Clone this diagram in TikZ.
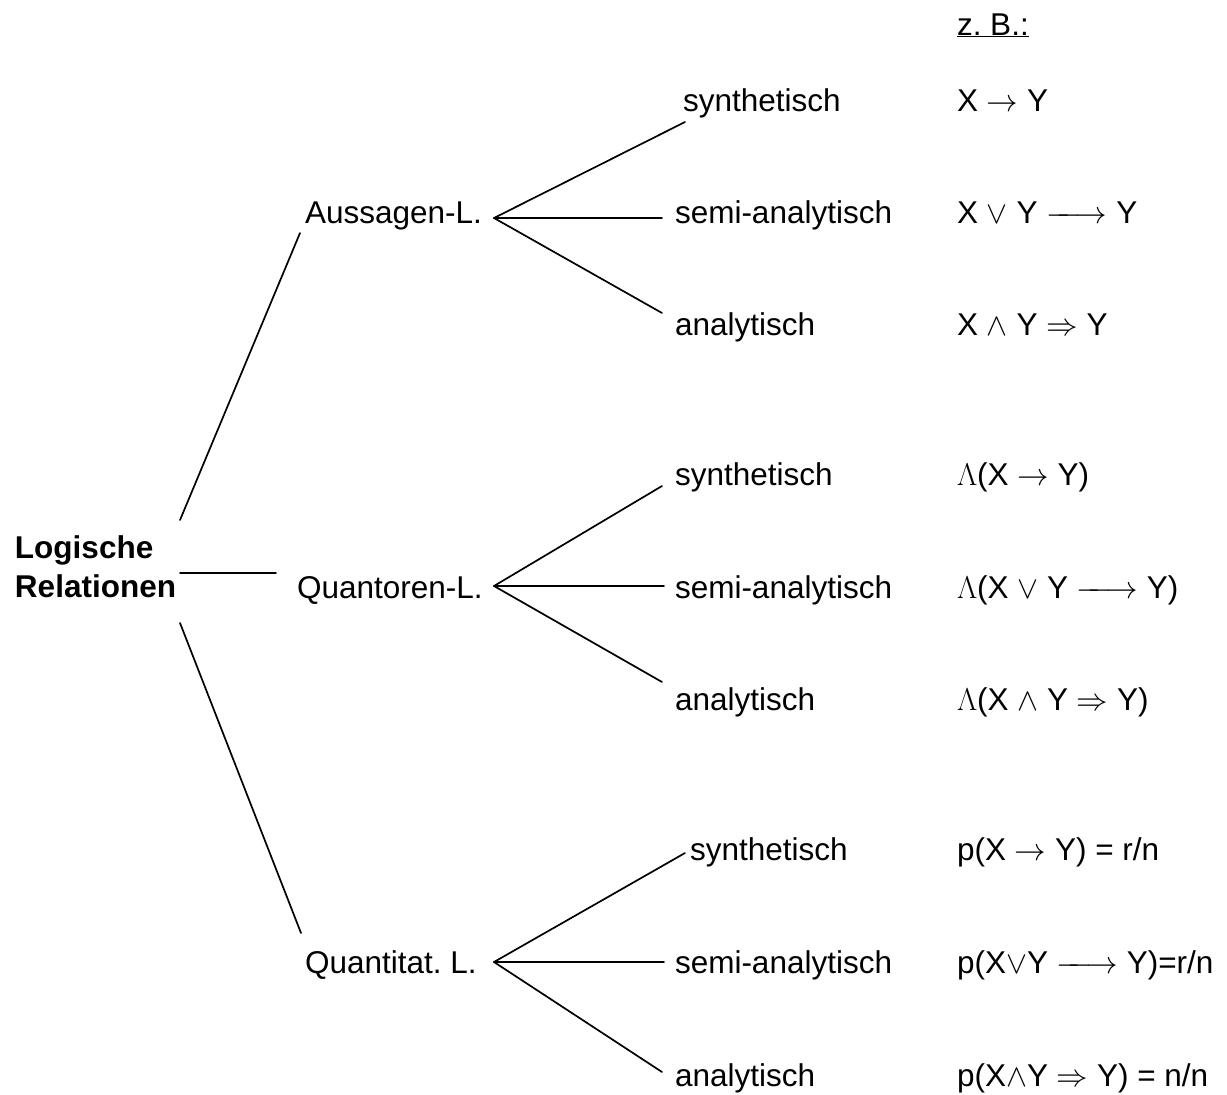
\RequirePackage{fix-cm}
\documentclass[tikz,border=0pt]{standalone}
\usepackage{fontspec}
\setmainfont{Liberation Sans}
\frenchspacing
\newcommand\lngarrow{\relbar\mkern-8mu\longrightarrow}
\begin{document}
\begin{tikzpicture}[x=1pt,y=-1pt,
  lbl/.style={anchor=base west,inner sep=0pt,outer sep=0pt,font=\fontsize{31.5}{39}\selectfont},
  conn/.style={line width=1.7pt,line cap=round}]
\useasboundingbox (0,0) rectangle (1227,1095);
% root
\node[lbl,anchor=north west,align=left,font=\fontsize{31.5}{39}\selectfont\bfseries] (root) at (15,536) {Logische\\Relationen};
% second level
\node[lbl] (aus) at (305,223) {Aussagen-L.};
\node[lbl] (qua) at (297,598) {Quantoren-L.};
\node[lbl] (qnt) at (305,973) {Quantitat. L.};
% third level
\node[lbl] (a1) at (683,111) {synthetisch};
\node[lbl] (a2) at (675,223) {semi-analytisch};
\node[lbl] (a3) at (675,335) {analytisch};
\node[lbl] (b1) at (675,485) {synthetisch};
\node[lbl] (b2) at (675,598) {semi-analytisch};
\node[lbl] (b3) at (675,710) {analytisch};
\node[lbl] (c1) at (690,860) {synthetisch};
\node[lbl] (c2) at (675,973) {semi-analytisch};
\node[lbl] (c3) at (675,1086) {analytisch};
% examples
\node[lbl] (zb) at (957,35) {\underline{z. B.:}};
\node[lbl] (fa1) at (957,111) {X $\rightarrow$ Y};
\node[lbl] (fa2) at (957,223) {X $\vee$ Y $\lngarrow$ Y};
\node[lbl] (fa3) at (957,335) {X $\wedge$ Y $\Rightarrow$ Y};
\node[lbl] (fb1) at (957,485) {$\Lambda$(X $\rightarrow$ Y)};
\node[lbl] (fb2) at (957,598) {$\Lambda$(X $\vee$ Y $\lngarrow$ Y)};
\node[lbl] (fb3) at (957,710) {$\Lambda$(X $\wedge$ Y $\Rightarrow$ Y)};
\node[lbl] (fc1) at (957,860) {p(X $\rightarrow$ Y) = r/n};
\node[lbl] (fc2) at (957,973) {p(X$\vee$Y $\lngarrow$ Y)=r/n};
\node[lbl] (fc3) at (957,1086) {p(X$\wedge$Y $\Rightarrow$ Y) = n/n};
% root connectors
\draw[conn] ([shift={(4,-16)}]root.north east) -- ([shift={(-5,10)}]aus.base west);
\draw[conn] ([shift={(4,37)}]root.north east) -- ([shift={(-21,-25)}]qua.base west);
\draw[conn] ([shift={(4,87)}]root.north east) -- ([shift={(-4,-40)}]qnt.base west);
% group 1
\draw[conn] ([shift={(189,-5)}]aus.base west) -- ([shift={(2,11)}]a1.base west);
\draw[conn] ([shift={(189,-5)}]aus.base west) -- ([shift={(-13,-5)}]a2.base west);
\draw[conn] ([shift={(189,-5)}]aus.base west) -- ([shift={(-13,-22)}]a3.base west);
% group 2
\draw[conn] ([shift={(197,-12)}]qua.base west) -- ([shift={(-13,1)}]b1.base west);
\draw[conn] ([shift={(197,-12)}]qua.base west) -- ([shift={(-11,-12)}]b2.base west);
\draw[conn] ([shift={(197,-12)}]qua.base west) -- ([shift={(-13,-28)}]b3.base west);
% group 3
\draw[conn] ([shift={(189,-11)}]qnt.base west) -- ([shift={(-5,-7)}]c1.base west);
\draw[conn] ([shift={(189,-11)}]qnt.base west) -- ([shift={(-11,-11)}]c2.base west);
\draw[conn] ([shift={(189,-11)}]qnt.base west) -- ([shift={(-13,-14)}]c3.base west);
\end{tikzpicture}
\end{document}
